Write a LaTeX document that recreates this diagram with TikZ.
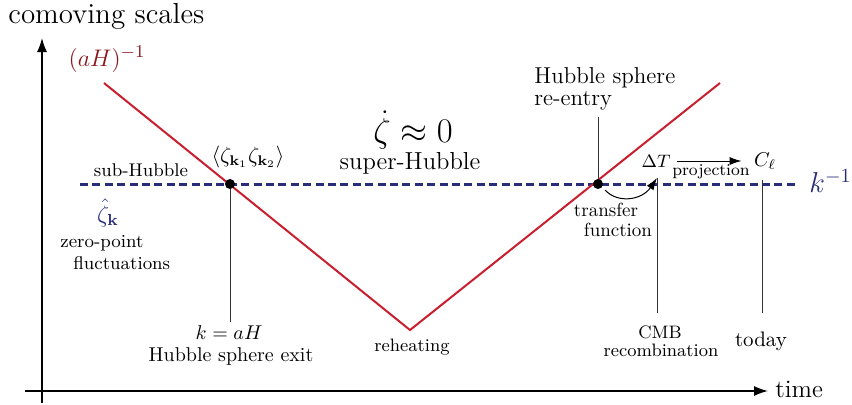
\documentclass[tikz,border=0pt]{standalone}
\usetikzlibrary{arrows.meta}
\usepackage{amsmath,amssymb}
\definecolor{hred}{RGB}{200,30,45}
\definecolor{dred}{RGB}{140,20,30}
\definecolor{kblue}{RGB}{40,45,120}
\begin{document}
\begin{tikzpicture}[x=0.5pt,y=-0.5pt,
  lbl/.style={inner sep=0pt,align=center},
  axis/.style={line width=0.7pt,-{Latex[length=7pt,width=5pt]}},
  tick/.style={line width=0.45pt,black!80},
  hub/.style={hred,line width=1pt},
  kline/.style={kblue,line width=1.5pt,dash pattern=on 4pt off 2.2pt},
  thinarrow/.style={line width=0.5pt,-{Latex[length=6pt,width=4pt]}},
  dot/.style={circle,fill=black,inner sep=0pt,minimum size=5pt}]
\useasboundingbox (0,0) rectangle (852,404);
% axes
\coordinate (yb) at (42,403);
\coordinate (yt) at (42,38);
\coordinate (xl) at (25,391);
\coordinate (xr) at (768,391);
\draw[axis] (yb) -- (yt);
\draw[axis] (xl) -- (xr);
\node[lbl,anchor=west,font=\fontsize{14.5}{15}\selectfont] (ylab) at (8,16) {comoving scales};
\node[lbl,anchor=west,font=\fontsize{12.5}{13}\selectfont] (xlab) at (775,389) {time};
% Hubble radius
\coordinate (h1) at (104,83);
\coordinate (h2) at (410,330);
\coordinate (h3) at (720,83);
\node[lbl,text=dred,font=\fontsize{12.5}{13}\selectfont] (aH) at (107,59) {$(aH)^{-1}$};
% k line
\coordinate (k1) at (80,184);
\coordinate (k2) at (796,184);
\draw[kline] (k1) -- (k2);
\node[lbl,text=kblue,font=\fontsize{14.5}{15}\selectfont,anchor=west] (klab) at (809,181) {$k^{-1}$};
\draw[hub] (h1) -- (h2) -- (h3);
% exit
\node[dot] (exit) at (230,184) {};
\node[dot] (entry) at (598,184) {};
\coordinate (exitb) at (230,322);
\draw[tick] (exit) -- (exitb);
\node[lbl,font=\fontsize{10}{11}\selectfont] (kaH) at (229,333) {$k=aH$};
\node[lbl,font=\fontsize{10}{11}\selectfont] (hexit) at (231,356) {Hubble sphere exit};
\node[lbl,font=\fontsize{9}{10}\selectfont] (reh) at (412,347) {reheating};
% re-entry
\coordinate (entryt) at (598,117);
\draw[tick] (entry) -- (entryt);
\node[lbl,align=left,anchor=west,font=\fontsize{11.5}{11.5}\selectfont] (reent) at (534,78) {Hubble sphere};
\node[lbl,align=left,anchor=west,font=\fontsize{11.5}{11.5}\selectfont] (reent2) at (534,101) {re-entry};
\node[lbl,font=\fontsize{9.5}{10}\selectfont] (tf) at (606,210) {transfer};
\node[lbl,font=\fontsize{9.5}{10}\selectfont] (tf2) at (618,230) {function};
% CMB
\node[lbl,font=\fontsize{9.5}{10}\selectfont] (dT) at (656,161) {$\Delta T$};
\node[lbl,font=\fontsize{10}{11}\selectfont] (Cl) at (765,161) {$C_\ell$};
\draw[thinarrow] ([xshift=3pt]dT.east) -- ([xshift=-6pt]Cl.west);
\node[lbl,font=\fontsize{8.3}{9}\selectfont] (proj) at (711,172) {projection};
\coordinate (cmbt) at (657,178);
\coordinate (cmbb) at (657,313);
\draw[tick] (cmbt) -- (cmbb);
\coordinate (todt) at (762,180);
\coordinate (todb) at (762,313);
\draw[tick] (todt) -- (todb);
\draw[thinarrow] (605,190) .. controls (618,204) and (642,200) .. (cmbt);
\node[lbl,font=\fontsize{9}{10}\selectfont] (cmb) at (660,332) {CMB};
\node[lbl,font=\fontsize{9}{10}\selectfont] (cmb2) at (661,350) {recombination};
\node[lbl,font=\fontsize{10.5}{11}\selectfont] (today) at (761,341) {today};
% regions
\node[lbl,font=\fontsize{16}{17}\selectfont] (zdot) at (413,130) {$\dot\zeta\approx 0$};
\node[lbl,font=\fontsize{12.3}{13}\selectfont] (super) at (410,163) {super-Hubble};
\node[lbl,font=\fontsize{9.2}{10}\selectfont] (sub) at (141,170) {sub-Hubble};
\node[lbl,text=kblue,font=\fontsize{11.5}{12}\selectfont] (zhat) at (108,213) {$\hat\zeta_{\mathbf k}$};
\node[lbl,anchor=west,font=\fontsize{9.2}{10}\selectfont] (zp) at (60,243) {zero-point};
\node[lbl,anchor=west,font=\fontsize{9.2}{10}\selectfont] (zp2) at (73,263) {fluctuations};
\node[lbl,font=\fontsize{10.5}{11}\selectfont] (corr) at (248,157) {$\langle\zeta_{\mathbf k_1}\zeta_{\mathbf k_2}\rangle$};
\end{tikzpicture}
\end{document}
